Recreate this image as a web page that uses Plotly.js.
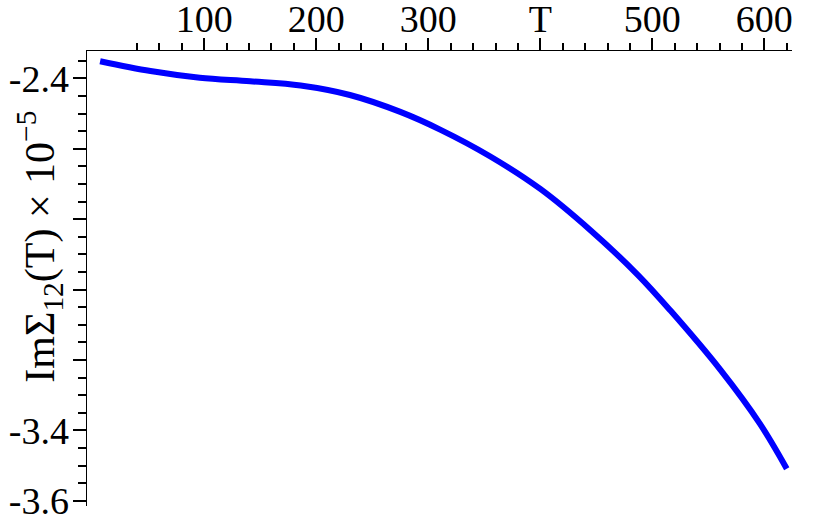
<!DOCTYPE html>
<html>
<head>
<meta charset="utf-8">
<script src="https://cdn.plot.ly/plotly-3.0.1.min.js"></script>
<style>
  html, body { margin: 0; padding: 0; background: #fff; }
  #plot { width: 830px; height: 526px; }
</style>
</head>
<body>
<div id="plot"></div>
<script>
// values in units of 1e-5
var temps = [7, 52, 96, 141, 186, 230, 275, 311, 355, 400, 445, 487, 516, 561, 596, 620];
var imSigma = [-2.351, -2.379, -2.398, -2.408, -2.420, -2.447, -2.495, -2.546,
               -2.621, -2.714, -2.832, -2.958, -3.059, -3.229, -3.381, -3.509];

var xTicks = [100, 200, 300, 400, 500, 600];
var xTickText = ['100', '200', '300', 'T', '500', '600'];
var yTicks = [-2.4, -3.4, -3.6];
var yTickText = ['-2.4', '-3.4', '-3.6'];
var yBareTicks = [-2.6, -2.8, -3.0, -3.2];   // major ticks whose labels are hidden

var serif = 'Liberation Serif, Times New Roman, serif';
var yRange = [-3.615, -2.322];

// minor tick positions
var xMinor = [];
for (var t = 40; t <= 620; t += 20) { if (t % 100 != 0) xMinor.push(t); }
var yMinor = [];
for (var k = 0; k <= 25; k++) {
  var v = Math.round((-2.35 - 0.05 * k) * 100) / 100;
  if (Math.round(v * 100) % 20 != 0) yMinor.push(v);
}

const curve = {
  x: temps,
  y: imSigma,
  type: 'scatter',
  mode: 'lines',
  line: { color: '#0000ff', width: 6, shape: 'spline', smoothing: 1 },
  hoverinfo: 'skip'
};

const layout = {
  width: 830,
  height: 526,
  margin: { l: 87, r: 38, t: 51, b: 20 },
  paper_bgcolor: '#fff',
  plot_bgcolor: '#fff',
  showlegend: false,
  font: { family: serif, size: 38, color: '#000' },
  xaxis: {
    side: 'top',
    range: [-4.7, 624.7],
    showgrid: false,
    zeroline: false,
    showline: true,
    linecolor: '#000',
    linewidth: 1.5,
    ticks: 'outside',
    ticklen: 12,
    tickwidth: 2,
    tickcolor: '#000',
    tickmode: 'array',
    tickvals: xTicks,
    ticktext: xTickText,
    ticklabelstandoff: -10,
    tickfont: { family: serif, size: 38, color: '#000' },
    minor: { tickmode: 'array', tickvals: xMinor, ticks: 'outside', ticklen: 7, tickwidth: 2, tickcolor: '#000', showgrid: false }
  },
  yaxis: {
    range: yRange,
    showgrid: false,
    zeroline: false,
    showline: true,
    linecolor: '#000',
    linewidth: 1.5,
    ticks: 'outside',
    ticklen: 13,
    tickwidth: 2,
    tickcolor: '#000',
    tickmode: 'array',
    tickvals: yTicks,
    ticktext: yTickText,
    ticklabelstandoff: -4,
    tickfont: { family: serif, size: 38, color: '#000' },
    minor: { tickmode: 'array', tickvals: yMinor, ticks: 'outside', ticklen: 8, tickwidth: 2, tickcolor: '#000', showgrid: false }
  },
  yaxis2: {
    overlaying: 'y',
    side: 'left',
    range: yRange,
    showgrid: false,
    zeroline: false,
    showline: false,
    showticklabels: false,
    ticks: 'outside',
    ticklen: 13,
    tickwidth: 2,
    tickcolor: '#000',
    tickmode: 'array',
    tickvals: yBareTicks
  },
  annotations: [{
    xref: 'paper', yref: 'paper',
    x: -0.068, y: 0.57,
    xanchor: 'center', yanchor: 'middle',
    textangle: -90,
    showarrow: false,
    text: 'ImΣ<sub>12</sub>(T) × 10<sup>−5</sup>',
    font: { family: serif, size: 42, color: '#000' }
  }]
};

const ghost = { x: [0], y: [-3], yaxis: 'y2', type: 'scatter', mode: 'none', hoverinfo: 'skip' };

Plotly.newPlot('plot', [curve, ghost], layout, { displayModeBar: false, staticPlot: true });
</script>
</body>
</html>
